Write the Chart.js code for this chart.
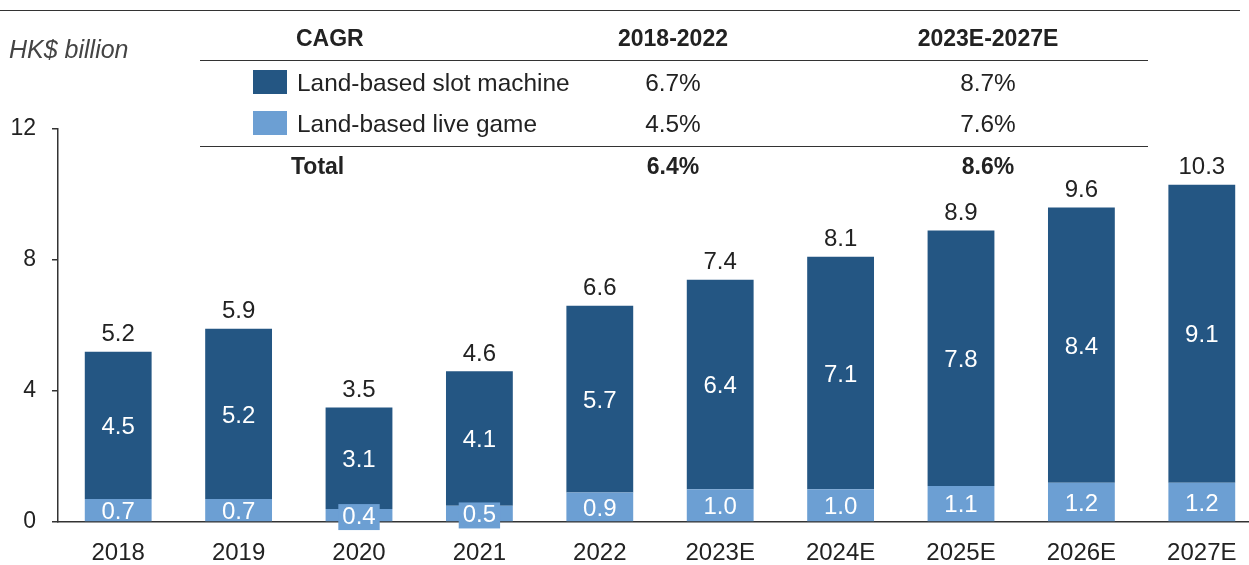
<!DOCTYPE html>
<html>
<head>
<meta charset="utf-8">
<script src="https://cdn.jsdelivr.net/npm/chart.js@4"></script>
<style>
  html, body { margin: 0; padding: 0; background: #fff; overflow: hidden; width: 1249px; height: 565px; }
  #wrap { position: absolute; left: 0; top: 0; width: 1270px; height: 565px; }
  .t { position: absolute; font-family: "Liberation Sans", Arial, sans-serif; font-size: 24.4px; color: #222; white-space: nowrap; line-height: 1; }
  .b { font-weight: bold; font-size: 23px; }
  .c { transform: translate(-50%, -50%); }
  .l { transform: translate(0, -50%); }
  .hr { position: absolute; height: 0; border-top: 1.5px solid #333; }
  .sw { position: absolute; width: 34px; height: 24px; }
</style>
</head>
<body>
<div id="wrap"><canvas id="c" width="1270" height="565"></canvas></div>
<div id="table"></div>
<script>
// ---- data ----
const categories = ["2018", "2019", "2020", "2021", "2022", "2023E", "2024E", "2025E", "2026E", "2027E"];
const slotMachine = [4.5, 5.2, 3.1, 4.1, 5.7, 6.4, 7.1, 7.8, 8.4, 9.1];
const liveGame = [0.7, 0.7, 0.4, 0.5, 0.9, 1.0, 1.0, 1.1, 1.2, 1.2];
const totals = [5.2, 5.9, 3.5, 4.6, 6.6, 7.4, 8.1, 8.9, 9.6, 10.3];
const yTicks = [0, 4, 8, 12];
const seriesNames = ["Land-based slot machine", "Land-based live game"];
const cagrPeriods = ["2018-2022", "2023E-2027E"];
const cagrSlot = ["6.7%", "8.7%"];
const cagrLive = ["4.5%", "7.6%"];
const cagrTotal = ["6.4%", "8.6%"];
const unitLabel = "HK$ billion";

const DARK = "#245683";
const LIGHT = "#6c9fd3";
const FONT = "'Liberation Sans', Arial, sans-serif";

// ---- table / legend (HTML text) ----
(function buildTable() {
  const t = document.getElementById('table');
  const add = (html) => t.insertAdjacentHTML('beforeend', html);
  add('<div class="hr" style="left:0;top:10px;width:1240px"></div>');
  add('<div class="hr" style="left:200px;top:60px;width:948px"></div>');
  add('<div class="hr" style="left:200px;top:146px;width:948px"></div>');
  add(`<div class="t l" style="left:9px;top:49px;font-style:italic;color:#444;font-size:25px">${unitLabel}</div>`);
  add('<div class="t b l" style="left:296px;top:38px">CAGR</div>');
  const cols = [673, 988];
  cagrPeriods.forEach((p, i) => add(`<div class="t b c" style="left:${cols[i]}px;top:38px">${p}</div>`));
  add(`<div class="sw" style="left:253px;top:70px;background:${DARK}"></div>`);
  add(`<div class="sw" style="left:253px;top:111px;background:${LIGHT}"></div>`);
  add(`<div class="t l" style="left:297px;top:83px">${seriesNames[0]}</div>`);
  add(`<div class="t l" style="left:297px;top:124px">${seriesNames[1]}</div>`);
  add('<div class="t b l" style="left:291px;top:166px">Total</div>');
  cagrSlot.forEach((v, i) => add(`<div class="t c" style="left:${cols[i]}px;top:83px">${v}</div>`));
  cagrLive.forEach((v, i) => add(`<div class="t c" style="left:${cols[i]}px;top:124px">${v}</div>`));
  cagrTotal.forEach((v, i) => add(`<div class="t b c" style="left:${cols[i]}px;top:166px">${v}</div>`));
})();

// ---- value labels plugin ----
const labelPlugin = {
  id: 'valueLabels',
  afterDatasetsDraw(chart) {
    const ctx = chart.ctx;
    ctx.save();
    ctx.font = `24px ${FONT}`;
    ctx.textAlign = 'center';
    ctx.textBaseline = 'middle';
    const m0 = chart.getDatasetMeta(0); // live game (bottom)
    const m1 = chart.getDatasetMeta(1); // slot (top)
    m0.data.forEach((bar, i) => {
      const p = bar.getProps(['x', 'y', 'base'], true);
      const h = p.base - p.y;
      const cy = (p.y + p.base) / 2 + 2;
      const txt = liveGame[i].toFixed(1);
      if (h < 20) {
        const w = ctx.measureText(txt).width + 8;
        ctx.fillStyle = LIGHT;
        ctx.fillRect(p.x - w / 2, cy - 13, w, 26);
      }
      ctx.fillStyle = '#ffffff';
      ctx.fillText(txt, p.x, cy);
    });
    m1.data.forEach((bar, i) => {
      const p = bar.getProps(['x', 'y', 'base'], true);
      ctx.fillStyle = '#ffffff';
      ctx.fillText(slotMachine[i].toFixed(1), p.x, (p.y + p.base) / 2 + 2);
      ctx.fillStyle = '#222';
      ctx.fillText(totals[i].toFixed(1), p.x, p.y - 17);
    });
    ctx.restore();
  }
};

new Chart(document.getElementById('c'), {
  type: 'bar',
  data: {
    labels: categories,
    datasets: [
      { label: seriesNames[1], data: liveGame, backgroundColor: LIGHT, borderWidth: 0 },
      { label: seriesNames[0], data: slotMachine, backgroundColor: DARK, borderWidth: 0 }
    ]
  },
  options: {
    responsive: false,
    animation: false,
    events: [],
    layout: { padding: { top: 129, right: 8, left: 0, bottom: 0 } },
    plugins: { legend: { display: false }, tooltip: { enabled: false } },
    datasets: { bar: { categoryPercentage: 1, barPercentage: 0.555 } },
    scales: {
      x: {
        stacked: true,
        grid: { display: false, drawTicks: false },
        border: { display: true, color: '#333', width: 1.5 },
        ticks: { color: '#222', font: { family: FONT, size: 24 }, padding: 17, maxRotation: 0 },
        afterFit(scale) { scale.height = 43; }
      },
      y: {
        stacked: true,
        min: 0, max: 12,
        afterBuildTicks(scale) { scale.ticks = yTicks.map(v => ({ value: v })); },
        grid: { drawOnChartArea: false, drawTicks: true, tickLength: 6, color: '#333', lineWidth: 1.5 },
        border: { display: true, color: '#333', width: 1.5 },
        ticks: { color: '#222', font: { family: FONT, size: 23 }, padding: 16 },
        afterFit(scale) { scale.width = 58; }
      }
    }
  },
  plugins: [labelPlugin]
});
</script>
</body>
</html>
